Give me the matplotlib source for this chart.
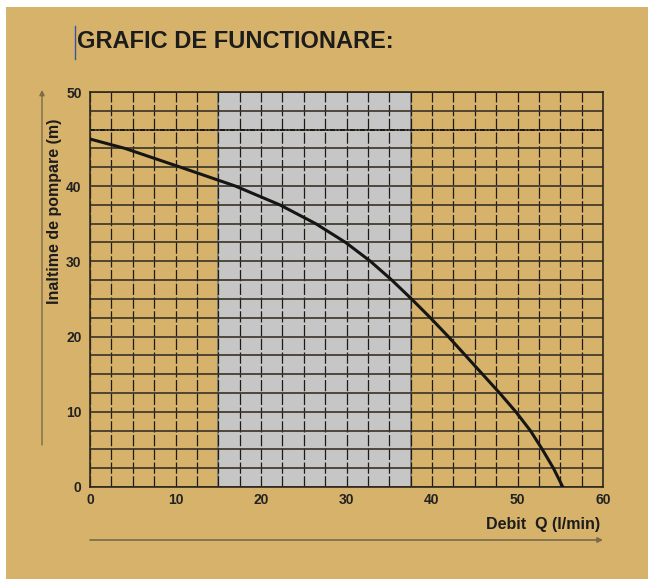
import matplotlib
matplotlib.use('Agg')
import matplotlib.pyplot as plt
import numpy as np
from matplotlib.patches import Rectangle, FancyArrowPatch
from matplotlib.lines import Line2D

# pump curve: flow Q (l/min) vs head H (m)
debit = [0, 4.1, 10.6, 17.0, 22.2, 26.4, 29.9, 32.8, 35.3, 37.6,
         39.8, 41.9, 43.9, 45.9, 47.9, 49.8, 51.5, 52.9, 54.2, 55.3]
inaltime = [45.0, 44.0, 42.0, 40.0, 37.5, 35.0, 32.5, 30.0, 27.5, 25.0,
            22.5, 20.0, 17.5, 15.0, 12.5, 10.0, 7.5, 5.0, 2.5, 0.0]

x_ticks = [0, 10, 20, 30, 40, 50, 60]
y_ticks = [0, 10, 20, 30, 40, 50]
x_grid = [2.5 * i for i in range(25)]
y_grid = [0, 2.5, 5, 7.5, 10, 12.5, 15, 17.5, 20, 22.5, 25, 27.5, 30,
          32.5, 35, 37.5, 40, 42, 44, 46, 48, 50]
zona_optima = (15, 37.5)
h_max = 46

tan = '#D7B26A'
W, H = 648, 579

# the original axis is stretched above 40 m (cells of 2 m instead of 2.5 m)
def fwd(y):
    y = np.asarray(y, dtype=float)
    return np.where(y <= 40, y / 2.5, 16 + (y - 40) / 2.0)

def inv(c):
    c = np.asarray(c, dtype=float)
    return np.where(c <= 16, c * 2.5, 40 + (c - 16) * 2.0)

def fx(px):
    return px / W

def fy(py):
    return 1 - py / H

plt.rcParams['font.family'] = ['Liberation Sans', 'DejaVu Sans']

fig = plt.figure(figsize=(6.48, 5.79), dpi=100)
fig.patch.set_facecolor('white')
fig.add_artist(Rectangle((fx(6), 0), 1 - fx(6), fy(7), transform=fig.transFigure,
                         facecolor=tan, edgecolor='none', zorder=-10))

ax = fig.add_axes([fx(90), fy(487), fx(603) - fx(90), fy(92) - fy(487)])
ax.set_facecolor(tan)
ax.set_yscale('function', functions=(fwd, inv))
ax.set_xlim(0, 60)
ax.set_ylim(0, 50)

ax.axvspan(zona_optima[0], zona_optima[1], facecolor='#C6C6C6', edgecolor='#7a7a7a',
           lw=1.2, zorder=0.2)

for xv in x_grid:
    ax.axvline(xv, color='#1e1a14', lw=0.9, ls=(0, (9, 2)), zorder=0.5)
for yv in y_grid:
    ax.axhline(yv, color='#3a3226', lw=1.2, zorder=0.6)

ax.axhline(h_max, color='#111111', lw=1.2, ls=(0, (3, 1, 1, 1)), zorder=0.8)
ax.plot(debit, inaltime, color='#151515', lw=2.2, zorder=3, solid_joinstyle='round')

ax.set_xticks(x_ticks)
ax.set_yticks(y_ticks)
ax.set_yticks([], minor=True)
ax.set_xticklabels([str(v) for v in x_ticks], fontweight='bold', fontsize=10, color='#222222')
ax.set_yticklabels([str(v) for v in y_ticks], fontweight='bold', fontsize=10, color='#222222')
ax.tick_params(axis='both', length=0)
ax.tick_params(axis='x', pad=4)
ax.tick_params(axis='y', pad=6)
for s in ax.spines.values():
    s.set_color('#2e281e')
    s.set_linewidth(1.2)

# title with the little bar in front of it
fig.text(fx(77), fy(41), 'GRAFIC DE FUNCTIONARE:', fontsize=17, fontweight='bold',
         color='#1c1c1c', ha='left', va='center')
fig.add_artist(Line2D([fx(75), fx(75)], [fy(26), fy(59)], color='#3a55a0', lw=1.0,
                      transform=fig.transFigure))

fig.text(fx(55), fy(211), 'Inaltime de pompare (m)', rotation=90, fontsize=11.5,
         fontweight='bold', color='#1c1c1c', ha='center', va='center')
fig.text(fx(600), fy(525), 'Debit  Q (l/min)', fontsize=11.5, fontweight='bold',
         color='#1c1c1c', ha='right', va='center')

arrow_col = '#7a6b4c'
fig.add_artist(FancyArrowPatch((fx(42), fy(445)), (fx(42), fy(90)), transform=fig.transFigure,
                               arrowstyle='-|>,head_length=3,head_width=1.5', color=arrow_col,
                               lw=1.0, shrinkA=0, shrinkB=0))
fig.add_artist(FancyArrowPatch((fx(90), fy(540)), (fx(603), fy(540)), transform=fig.transFigure,
                               arrowstyle='-|>,head_length=3,head_width=1.5', color=arrow_col,
                               lw=1.2, shrinkA=0, shrinkB=0))

fig.savefig('out.png', dpi=100, facecolor=fig.get_facecolor())
